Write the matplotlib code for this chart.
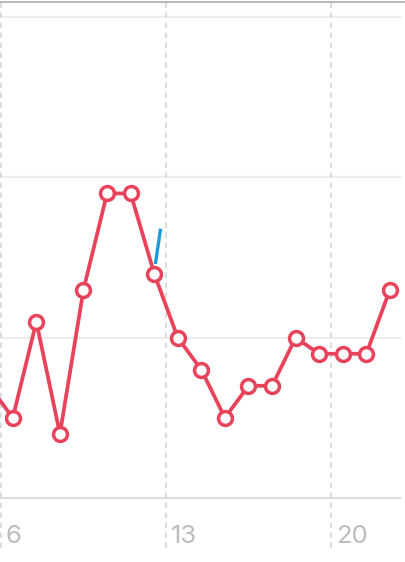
import matplotlib
matplotlib.use("Agg")
import matplotlib.pyplot as plt
from matplotlib import transforms
from matplotlib.lines import Line2D

# data: values sit at mid-day (x.5)
days = [5.5, 6.5, 7.5, 8.5, 9.5, 10.5, 11.5, 12.5, 13.5, 14.5, 15.5,
        16.5, 17.5, 18.5, 19.5, 20.5, 21.5, 22.5]
values = [7, 5, 11, 4, 13, 19, 19, 14, 10, 8, 5, 7, 7, 10, 9, 9, 9, 13]

# small blue fragment of another series
blue_x = [12.55, 12.77]
blue_y = [14.6, 16.8]

tick_days = [6, 13, 20]
tick_labels = ["6", "13", "20"]
grid_vals = [0, 10, 20, 30]

red = "#E8435A"

fig = plt.figure(figsize=(4.06, 5.62), dpi=100)
ax = fig.add_axes([0, 14 / 562, 401 / 406, 548 / 562])
ax.set_xlim(5.958, 22.97)
ax.set_ylim(-3.12, 31.07)
ax.axis("off")

for g in grid_vals:
    ax.axhline(g, color="#DEDEDE" if g == 0 else "#EDEDED", lw=1.6, zorder=1)

for d in tick_days:
    ax.axvline(d, color="#DCDCDC", lw=1.5, ls=(0, (2.6, 2.2)), zorder=1)

ax.plot(blue_x, blue_y, color="#1A9BDB", lw=2.4, solid_capstyle="butt", zorder=2)

ax.plot(days, values, color=red, lw=2.7, marker="o", markersize=10,
        markerfacecolor="white", markeredgecolor=red, markeredgewidth=2.5,
        zorder=3)

off = transforms.offset_copy(ax.transData, fig=fig, x=5, y=0, units="dots")
for d, lab in zip(tick_days, tick_labels):
    ax.text(d, -2.4, lab, transform=off, ha="left", va="center",
            fontsize=18.5, color="#BDBDBD", family=["Inter", "DejaVu Sans"])

# top border line
fig.add_artist(Line2D([0, 1], [1 - 1.5 / 562, 1 - 1.5 / 562],
                      transform=fig.transFigure, color="#ABABAB", lw=1.2))

fig.savefig("out.png", dpi=100)
